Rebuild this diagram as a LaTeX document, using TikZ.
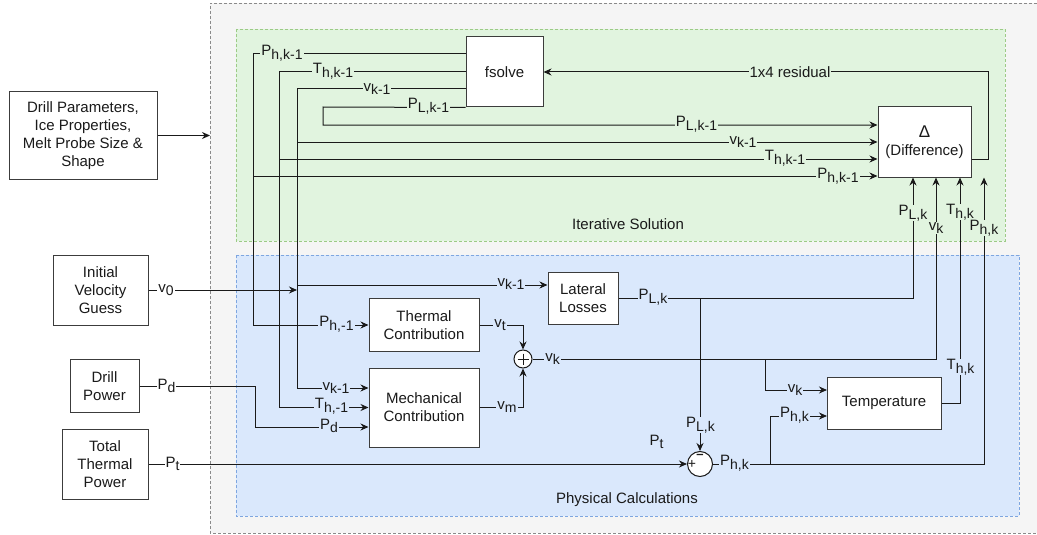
\documentclass[tikz,border=0pt]{standalone}
\usepackage{fontspec}
\setmainfont{Liberation Sans}
\usetikzlibrary{arrows.meta}
\definecolor{outerfill}{HTML}{F5F5F5}
\definecolor{outerline}{HTML}{8A8A8A}
\definecolor{greenfill}{HTML}{E1F4DF}
\definecolor{greenline}{HTML}{9CCB86}
\definecolor{bluefill}{HTML}{DAE8FC}
\definecolor{blueline}{HTML}{7EA6E0}
\definecolor{ink}{HTML}{1A1A1A}
\newcommand\sbx[2]{#1\raisebox{-3.5pt}{\fontsize{14}{14}\selectfont #2}}
\tikzset{
  blk/.style={draw=ink!85, line width=1pt, fill=white, align=center, text=ink,
    font=\fontsize{15}{18}\selectfont, inner sep=0pt},
  wire/.style={draw=ink, line width=1pt},
  arr/.style={wire, -{Stealth[length=8pt,width=7pt]}},
  elab/.style={fill=#1, inner xsep=1pt, inner ysep=0pt, text=ink,
    font=\fontsize{15}{18}\selectfont},
  elab/.default=white,
  region/.style={line width=0.8pt, dash pattern=on 3pt off 2pt},
}
\begin{document}
\begin{tikzpicture}[x=1pt,y=-1pt]
\useasboundingbox (0,0) rectangle (1037,535);
% containers
\fill[outerfill] (210,3) rectangle (1037,533);
\draw[region, outerline] (1037,3) -- (210,3) -- (210,533) -- (1037,533);
\draw[region, draw=greenline, fill=greenfill] (236,29) rectangle (1005,241);
\draw[region, draw=blueline, fill=bluefill] (236,255) rectangle (1019,516);
\node[text=ink, font=\fontsize{15}{18}\selectfont] (titer) at (628,224) {Iterative Solution};
\node[text=ink, font=\fontsize{15}{18}\selectfont] (tphys) at (627,500) {Physical Calculations};

% blocks
\node[blk, minimum width=148pt, minimum height=87pt] (params) at (83,135.5)
  {Drill Parameters,\\Ice Properties,\\Melt Probe Size \&\\Shape};
\node[blk, minimum width=95pt, minimum height=70pt] (init) at (100.5,290) {Initial\\Velocity\\Guess};
\node[blk, minimum width=69pt, minimum height=53pt] (drillp) at (104.5,386) {Drill\\Power};
\node[blk, minimum width=86pt, minimum height=70pt] (totalp) at (105,464) {Total\\Thermal\\Power};
\node[blk, minimum width=77pt, minimum height=70pt] (fsolve) at (504.5,72) {fsolve};
\node[blk, minimum width=93pt, minimum height=70pt] (diff) at (924.5,142) {{\fontsize{17}{19}\selectfont Δ}\\(Difference)};
\node[blk, minimum width=110pt, minimum height=53pt] (thermal) at (424,325) {Thermal\\Contribution};
\node[blk, minimum width=110pt, minimum height=79pt] (mech) at (424,407.5) {Mechanical\\Contribution};
\node[blk, minimum width=70pt, minimum height=52pt] (lateral) at (583,298) {Lateral\\Losses};
\node[blk, minimum width=114pt, minimum height=52pt] (temp) at (884,403) {Temperature};
\node[circle, draw=ink, line width=1pt, fill=white, minimum size=18pt, inner sep=0pt] (sum) at (523,359) {};
\draw[ink, line width=0.8pt] ([yshift=5.5pt]sum.center) -- ([yshift=-5.5pt]sum.center)
  ([xshift=-5.5pt]sum.center) -- ([xshift=5.5pt]sum.center);
\node[circle, draw=ink, line width=1pt, fill=white, minimum size=25pt, inner sep=0pt] (sub) at (700,464) {};

% junction coordinates
\coordinate (inlet) at (210,135.5);
\coordinate (rr0) at (988,159);
\coordinate (rr) at (988,72);
\coordinate (ph1) at (253,54);
\coordinate (ph2) at (253,176);
\coordinate (ph3) at (253,325);
\coordinate (th1) at (279,72);
\coordinate (th2) at (279,159);
\coordinate (th3) at (279,407.5);
\coordinate (vv1) at (297,89);
\coordinate (vv2) at (297,142);
\coordinate (vv3) at (297,285);
\coordinate (vv4) at (297,388);
\coordinate (v0end) at (297,290);
\coordinate (pl1) at (323,107);
\coordinate (pl2) at (323,125);
\coordinate (pd1) at (255,386);
\coordinate (pd2) at (255,427);
\coordinate (vkr) at (936,359);
\coordinate (vkb) at (765,359);
\coordinate (plr) at (913,298);
\coordinate (plb) at (700,298);
\coordinate (phr) at (984,464);
\coordinate (phb) at (770,464);
\coordinate (thr) at (960,403);
\coordinate (vkt) at (827,390);
\coordinate (pht) at (827,416);

% connectors
\draw[arr] (params.east) -- (inlet);
\draw[arr] (diff.east |- rr0) -- (rr0) -- (rr) -- (fsolve.east);
\draw[arr] (fsolve.west |- ph1) -- (ph1) -- (ph3) -- (thermal.west |- ph3);
\draw[arr] (ph2) -- (diff.west |- ph2);
\draw[arr] (fsolve.west) -- (th1) -- (th3) -- (mech.west);
\draw[arr] (th2) -- (diff.west |- th2);
\draw[arr] (fsolve.west |- vv1) -- (vv1) -- (vv4) -- (mech.west |- vv4);
\draw[arr] (vv2) -- (diff.west |- vv2);
\draw[arr] (vv3) -- (lateral.west |- vv3);
\draw[arr] (init.east) -- (v0end);
\draw[arr] (fsolve.south west) -- (pl1) -- (pl2) -- (diff.west |- pl2);
\draw[arr] (drillp.east |- pd1) -- (pd1) -- (pd2) -- (mech.west |- pd2);
\draw[arr] (thermal.east) -| (sum.north);
\draw[arr] (mech.east) -| (sum.south);
\draw[arr] (sum.east) -- (vkr) -- (vkr |- diff.south);
\draw[arr] (vkb) |- (vkt);
\draw[arr] (lateral.east) -- (plr) -- (plr |- diff.south);
\draw[arr] (plb) -- (sub.north);
\draw[arr] (totalp.east) -- (sub.west);
\draw[arr] (sub.east) -- (phr) -- (phr |- diff.south);
\draw[arr] (phb) |- (pht);
\draw[arr] (temp.east) -- (thr) -- (thr |- diff.south);
\node[text=ink, font=\fontsize{14}{14}\selectfont, inner sep=0pt] (subplus) at (692,464.5) {+};
\node[text=ink, font=\fontsize{13}{13}\bfseries, inner sep=0pt, anchor=base] (subminus) at (700,458.5) {–};

% labels: green region
\node[elab=greenfill] (l1) at (790,72) {1x4 residual};
\node[elab=greenfill] (l2) at (282,53) {\sbx{P}{h,k-1}};
\node[elab=greenfill] (l3) at (333,71) {\sbx{T}{h,k-1}};
\node[elab=greenfill] (l4) at (377,89) {\sbx{v}{k-1}};
\node[elab=greenfill] (l5) at (428.5,106) {\sbx{P}{L,k-1}};
\node[elab=greenfill] (l6) at (696.5,124) {\sbx{P}{L,k-1}};
\node[elab=greenfill] (l7) at (743,142) {\sbx{v}{k-1}};
\node[elab=greenfill] (l8) at (785,158) {\sbx{T}{h,k-1}};
\node[elab=greenfill] (l9) at (838,176) {\sbx{P}{h,k-1}};
\node[elab=greenfill] (l10) at (913,213) {\sbx{P}{L,k}};
\node[elab=greenfill] (l11) at (936,228) {\sbx{v}{k}};
\node[elab=greenfill] (l12) at (960,212) {\sbx{T}{h,k}};
\node[elab=greenfill] (l13) at (984,228) {\sbx{P}{h,k}};
% labels: blue region
\node[elab=bluefill] (l14) at (511,284) {\sbx{v}{k-1}};
\node[elab=bluefill] (l15) at (336.5,324) {\sbx{P}{h,-1}};
\node[elab=bluefill] (l16) at (336,388) {\sbx{v}{k-1}};
\node[elab=bluefill] (l17) at (331.5,406) {\sbx{T}{h,-1}};
\node[elab=bluefill] (l18) at (329,426) {\sbx{P}{d}};
\node[elab=bluefill] (l19) at (500,325) {\sbx{v}{t}};
\node[elab=bluefill] (l20) at (507,407) {\sbx{v}{m}};
\node[elab=bluefill] (l21) at (552.5,359) {\sbx{v}{k}};
\node[elab=bluefill] (l22) at (653,297) {\sbx{P}{L,k}};
\node[elab=bluefill] (l23) at (700.5,425) {\sbx{P}{L,k}};
\node[text=ink, font=\fontsize{15}{18}\selectfont, inner sep=0pt] (l24) at (656.5,442) {\sbx{P}{t}};
\node[elab=bluefill] (l25) at (734.5,463) {\sbx{P}{h,k}};
\node[elab=bluefill] (l26) at (795,390) {\sbx{v}{k}};
\node[elab=bluefill] (l27) at (794.5,415) {\sbx{P}{h,k}};
\node[elab=bluefill] (l28) at (960.5,367) {\sbx{T}{h,k}};
% labels: outside
\node[elab] (l29) at (166,290) {\sbx{v}{0}};
\node[elab] (l30) at (166.5,386) {\sbx{P}{d}};
\node[elab] (l31) at (172.5,464) {\sbx{P}{t}};
\end{tikzpicture}
\end{document}
